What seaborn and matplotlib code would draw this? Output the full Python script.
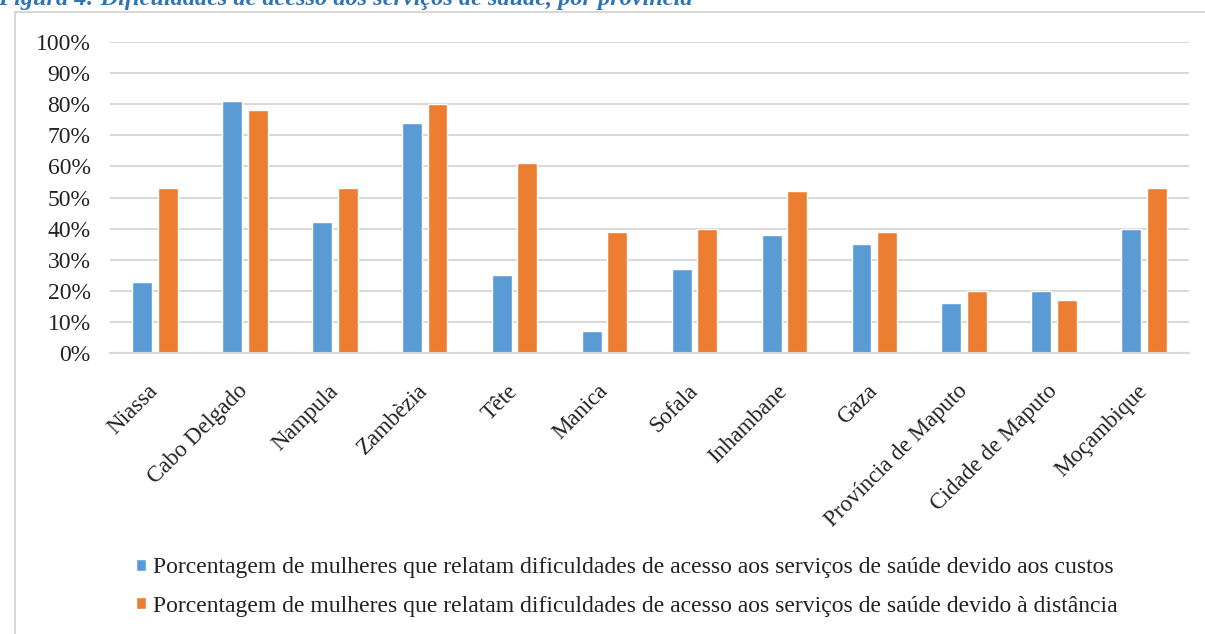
import matplotlib
matplotlib.use("Agg")
import matplotlib.pyplot as plt
from matplotlib.patches import Rectangle
from matplotlib.ticker import PercentFormatter
import pandas as pd
import seaborn as sns

# Provinces and the share of women reporting barriers to health services
provinces = ["Niassa", "Cabo Delgado", "Nampula", "Zambèzia", "Tête", "Manica",
             "Sofala", "Inhambane", "Gaza", "Província de Maputo",
             "Cidade de Maputo", "Moçambique"]
custos = [23, 81, 42, 74, 25, 7, 27, 38, 35, 16, 20, 40]
distancia = [53, 78, 53, 80, 61, 39, 40, 52, 39, 20, 17, 53]

serie_custos = ("Porcentagem de mulheres que relatam dificuldades de acesso "
                "aos serviços de saúde devido aos custos")
serie_distancia = ("Porcentagem de mulheres que relatam dificuldades de acesso "
                   "aos serviços de saúde devido à distância")
titulo = "Figura 4: Dificuldades de acesso aos serviços de saúde, por província"

df = pd.DataFrame({
    "provincia": provinces * 2,
    "valor": [v / 100 for v in custos] + [v / 100 for v in distancia],
    "serie": [serie_custos] * len(provinces) + [serie_distancia] * len(provinces),
})

sns.set_theme(style="white")
plt.rcParams["font.family"] = ["Liberation Serif", "DejaVu Serif"]

W, H = 1205, 634
fig = plt.figure(figsize=(W / 100, H / 100), dpi=100)
ax = fig.add_axes([110 / W, 1 - 353.3 / H, (1189 - 110) / W, (353.3 - 41.7) / H])

sns.barplot(data=df, x="provincia", y="valor", hue="serie", ax=ax,
            palette=["#5B9BD5", "#ED7D31"], width=0.568, gap=0.22,
            saturation=1, legend=True)

ax.set_xlim(-0.5, len(provinces) - 0.5)
ax.set_ylim(0, 1)
ax.set_yticks([i / 10 for i in range(11)])
ax.yaxis.set_major_formatter(PercentFormatter(1.0, decimals=0))
ax.grid(axis="y", color="#D9D9D9", linewidth=1.5)
ax.set_axisbelow(True)
for side in ["top", "right", "left"]:
    ax.spines[side].set_visible(False)
ax.spines["bottom"].set_color("#D9D9D9")
ax.spines["bottom"].set_linewidth(1.5)
ax.set_xlabel("")
ax.set_ylabel("")
ax.tick_params(axis="y", length=0, pad=14, labelsize=17, labelcolor="#222222")
ax.tick_params(axis="x", length=0, pad=25, labelsize=16.5, labelcolor="#222222")
for lab in ax.get_xticklabels():
    lab.set_rotation(45)
    lab.set_rotation_mode("anchor")
    lab.set_ha("right")
    lab.set_va("center")

handles, labels = ax.get_legend_handles_labels()
ax.get_legend().remove()
fig.legend(handles, labels, loc="center", bbox_to_anchor=(627 / W, 1 - 587 / H),
           ncol=1, frameon=False, fontsize=17, handlelength=0.4,
           handleheight=0.4, handletextpad=0.3, labelspacing=0.75,
           labelcolor="#222222")

# Chart frame and caption
fig.patches.append(Rectangle((15 / W, -0.05), 1.1, 1 - 12 / H + 0.05,
                             transform=fig.transFigure, fill=False,
                             edgecolor="#D0D0D0", linewidth=1.2))
fig.text(-2 / W, 1 - 5 / H, titulo, ha="left", va="baseline", fontsize=17.5,
         fontweight="bold", fontstyle="italic", color="#2E74B5")

fig.savefig("out.png", dpi=100, facecolor="white")
